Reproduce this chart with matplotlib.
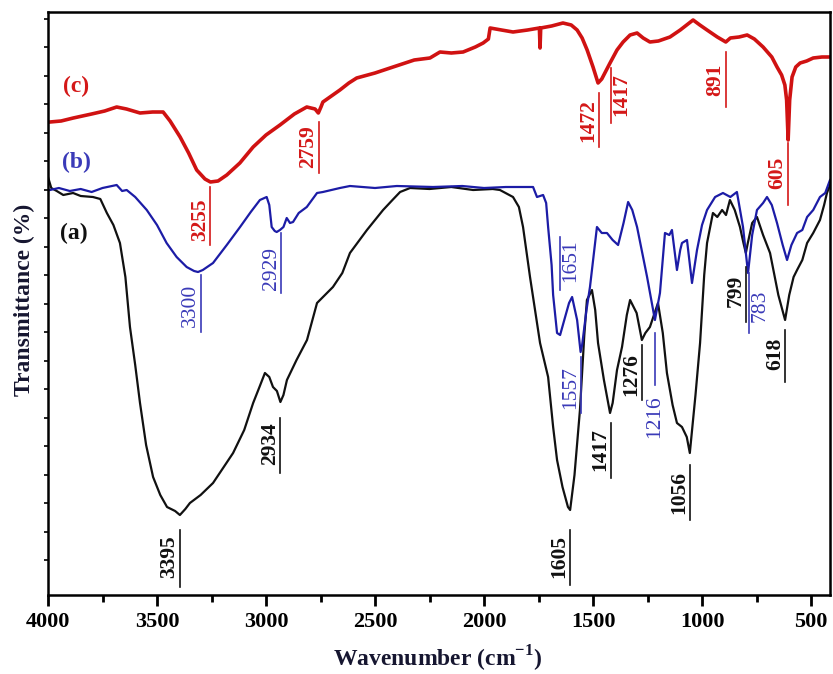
import matplotlib
matplotlib.use("Agg")
import matplotlib.pyplot as plt
from matplotlib.ticker import MultipleLocator, FixedLocator
import numpy as np

# FTIR spectra, transmittance in arbitrary units (0 = bottom of frame)
wn_a = [4000, 3985, 3960, 3930, 3885, 3850, 3794, 3760, 3730, 3700, 3670, 3645, 3624,
        3600, 3578, 3550, 3518, 3485, 3454, 3417, 3395, 3370, 3349, 3300, 3243, 3200,
        3151, 3100, 3059, 3030, 3005, 2985, 2968, 2950, 2934, 2920, 2904, 2860, 2812,
        2766, 2693, 2650, 2615, 2537, 2463, 2420, 2385, 2339, 2250, 2150, 2050, 1960,
        1927, 1867, 1840, 1821, 1789, 1743, 1706, 1683, 1665, 1640, 1615, 1605, 1585,
        1560, 1540, 1528, 1505, 1490, 1477, 1450, 1422, 1410, 1390, 1367, 1345, 1330,
        1300, 1276, 1260, 1239, 1202, 1180, 1161, 1135, 1115, 1092, 1070, 1056, 1030,
        1009, 990, 977, 950, 930, 908, 890, 872, 850, 826, 810, 799, 790, 770, 748,
        720, 688, 650, 619, 600, 580, 564, 540, 518, 490, 459, 440, 427, 413]
t_a = [418, 407, 404, 400, 402, 399, 398, 396, 382, 370, 352, 318, 268,
       230, 192, 150, 118, 100, 88, 84, 80, 86, 92, 100, 112, 126,
       142, 165, 192, 208, 222, 218, 208, 204, 193, 200, 215, 235, 255,
       292, 308, 322, 342, 365, 385, 395, 403, 407, 406, 408, 405, 406,
       405, 398, 388, 368, 318, 252, 218, 168, 135, 108, 88, 85, 120,
       185, 260, 295, 305, 285, 252, 215, 182, 192, 225, 248, 280, 295,
       282, 255, 262, 268, 292, 262, 222, 190, 172, 168, 158, 142, 200,
       252, 320, 352, 382, 378, 385, 380, 395, 385, 368, 352, 342, 352, 372, 378,
       360, 342, 300, 275, 300, 318, 325, 335, 352, 362, 375, 390, 402, 410]

wn_b = [3991, 3950, 3900, 3850, 3800, 3750, 3685, 3660, 3639, 3600, 3547, 3500,
        3456, 3410, 3364, 3330, 3312, 3290, 3243, 3180, 3119, 3070, 3028, 2997,
        2985, 2974, 2960, 2951, 2936, 2920, 2905, 2890, 2876, 2850, 2813, 2766,
        2739, 2661, 2615, 2500, 2400, 2234, 2100, 2000, 1900, 1775, 1757, 1729,
        1715, 1706, 1690, 1683, 1665, 1651, 1628, 1610, 1596, 1573, 1557, 1550,
        1530, 1514, 1482, 1460, 1436, 1410, 1385, 1360, 1339, 1320, 1298, 1252,
        1216, 1193, 1170, 1150, 1138, 1115, 1100, 1092, 1069, 1046, 1023, 1000,
        977, 940, 904, 870, 840, 812, 789, 770, 748, 720, 702, 680, 656, 630,
        610, 590, 564, 540, 518, 490, 459, 435, 413]
t_b = [405, 407, 404, 406, 403, 407, 410, 404, 405, 398, 385, 370,
       352, 338, 328, 324, 323, 325, 332, 350, 368, 383, 395, 398,
       390, 368, 364, 363, 365, 368, 377, 372, 373, 382, 388, 402,
       403, 407, 409, 407, 409, 408, 409, 407, 408, 408, 398, 400,
       392, 368, 330, 300, 262, 260, 278, 292, 298, 275, 243, 250,
       285, 308, 368, 362, 362, 355, 350, 372, 393, 385, 368, 318,
       275, 302, 362, 360, 365, 325, 345, 352, 355, 312, 345, 370,
       385, 398, 402, 398, 403, 368, 322, 360, 385, 392, 398, 390, 372, 350,
       335, 350, 362, 365, 378, 385, 398, 402, 415]

wn_c = [3991, 3940, 3884, 3800, 3740, 3685, 3640, 3578, 3520, 3472, 3440, 3394,
        3355, 3318, 3280, 3255, 3220, 3180, 3120, 3059, 3000, 2936, 2870, 2813,
        2775, 2760, 2748, 2739, 2700, 2661, 2620, 2584, 2500, 2431, 2320, 2248,
        2202, 2150, 2096, 2040, 2004, 1980, 1972, 1920, 1867, 1800, 1746, 1743,
        1740, 1690, 1638, 1600, 1573, 1550, 1527, 1500, 1477, 1460, 1422, 1390,
        1362, 1330, 1298, 1270, 1239, 1200, 1147, 1100, 1041, 1010, 977, 930,
        891, 870, 830, 793, 760, 720, 680, 656, 635, 620, 612, 605, 598, 587,
        570, 550, 520, 490, 450, 413]
t_c = [473, 474, 477, 481, 484, 488, 486, 482, 483, 483, 474, 458,
       442, 425, 416, 413, 414, 420, 432, 448, 460, 470, 481, 488,
       486, 482, 488, 493, 499, 505, 512, 517, 522, 527, 535, 537,
       543, 542, 543, 548, 552, 556, 567, 565, 563, 565, 567, 547,
       567, 569, 572, 570, 565, 557, 545, 528, 512, 516, 532, 545,
       553, 560, 562, 557, 553, 554, 558, 565, 575, 570, 565, 558,
       553, 557, 558, 560, 556, 548, 538, 528, 520, 510, 495, 455, 495, 518,
       528, 532, 534, 537, 538, 538]

# peak labels: (text, wavenumber, line bottom, line top, text centre, side)
ann_c = [("3255", 3255, 350, 408, 375, -1), ("2759", 2759, 422, 473, 448, -1),
         ("1472", 1472, 448, 502, 474, -1), ("1417", 1417, 472, 527, 500, 1),
         ("891", 891, 488, 543, 515, -1), ("605", 605, 390, 452, 422, -1)]
ann_b = [("3300", 3300, 263, 320, 290, -1), ("2929", 2929, 302, 362, 327, -1),
         ("1651", 1651, 305, 358, 334, 1), ("1557", 1557, 182, 238, 207, -1),
         ("783", 783, 262, 322, 289, 1)]
ann_a = [("3395", 3395, 8, 65, 38, -1), ("2934", 2934, 122, 177, 151, -1),
         ("1605", 1605, 10, 65, 39, -1), ("1417", 1417, 117, 172, 145, -1),
         ("1276", 1276, 195, 250, 220, -1), ("1056", 1056, 75, 130, 103, -1),
         ("799", 799, 273, 328, 304, -1), ("618", 618, 213, 265, 241, -1)]

plt.rcParams['font.family'] = ['Liberation Serif', 'DejaVu Serif']
plt.rcParams['mathtext.fontset'] = 'custom'
plt.rcParams['mathtext.rm'] = 'Liberation Serif:bold'
plt.rcParams['mathtext.bf'] = 'Liberation Serif:bold'

RED, BLUE, BLACK = '#d01212', '#1c1ca6', '#111111'
RED_T, BLUE_T = '#d41818', '#3a3ab8'

fig = plt.figure(figsize=(8.33, 6.74), dpi=100)
ax = fig.add_axes([48 / 833, 79 / 674, 782 / 833, 583 / 674])

ax.plot(wn_a, t_a, color=BLACK, lw=1.6)
ax.plot(wn_b, t_b, color=BLUE, lw=1.6)
ax.plot(wn_c, t_c, color=RED, lw=2.6)

ax.set_xlim(4000, 413)
ax.set_ylim(0, 583)


def label_peaks(items, color, weight):
    for txt, wn, y0, y1, yc, side in items:
        ax.plot([wn, wn], [y0, y1], color=color, lw=1.2)
        ax.annotate(txt, xy=(wn, yc), xytext=(7.5 * side, 0), textcoords='offset points',
                    rotation=90, ha='center', va='center', fontsize=15.5,
                    color=color, fontweight=weight)


label_peaks(ann_c, RED_T, 'bold')
label_peaks(ann_b, BLUE_T, 'normal')
label_peaks(ann_a, BLACK, 'bold')

# 1216 label sits below its line
ax.plot([1216, 1216], [210, 262], color=BLUE_T, lw=1.2)
ax.text(1216, 178, "1216", rotation=90, ha='center', va='center', fontsize=15.5,
        color=BLUE_T)

ax.text(3870, 509, "(c)", color=RED_T, fontsize=17, fontweight='bold', ha='center', va='center')
ax.text(3870, 433, "(b)", color=BLUE_T, fontsize=17, fontweight='bold', ha='center', va='center')
ax.text(3880, 362, "(a)", color=BLACK, fontsize=17, fontweight='bold', ha='center', va='center')

ax.xaxis.set_major_locator(MultipleLocator(500))
ax.xaxis.set_minor_locator(MultipleLocator(250))
ax.yaxis.set_major_locator(FixedLocator(np.arange(35, 583, 28.5)))
ax.set_yticklabels([])
ax.tick_params(axis='x', which='major', direction='out', length=8, width=2, pad=4,
               labelsize=16)
ax.tick_params(axis='x', which='minor', direction='out', length=5, width=2)
ax.tick_params(axis='y', which='major', direction='out', length=3, width=1.2)
for lab in ax.get_xticklabels():
    lab.set_fontweight('bold')
for sp in ax.spines.values():
    sp.set_linewidth(1.8)

fig.text(24 / 833, 0.555, "Transmittance (%)", rotation=90, ha='center', va='center',
         fontsize=17, fontweight='bold', color='#161630')
fig.text(0.525, 0.022, r"Wavenumber (cm$^{\mathbf{-1}}$)", ha='center', va='center',
         fontsize=17, fontweight='bold', color='#161630')

fig.savefig("out.png", dpi=100, facecolor='white')
